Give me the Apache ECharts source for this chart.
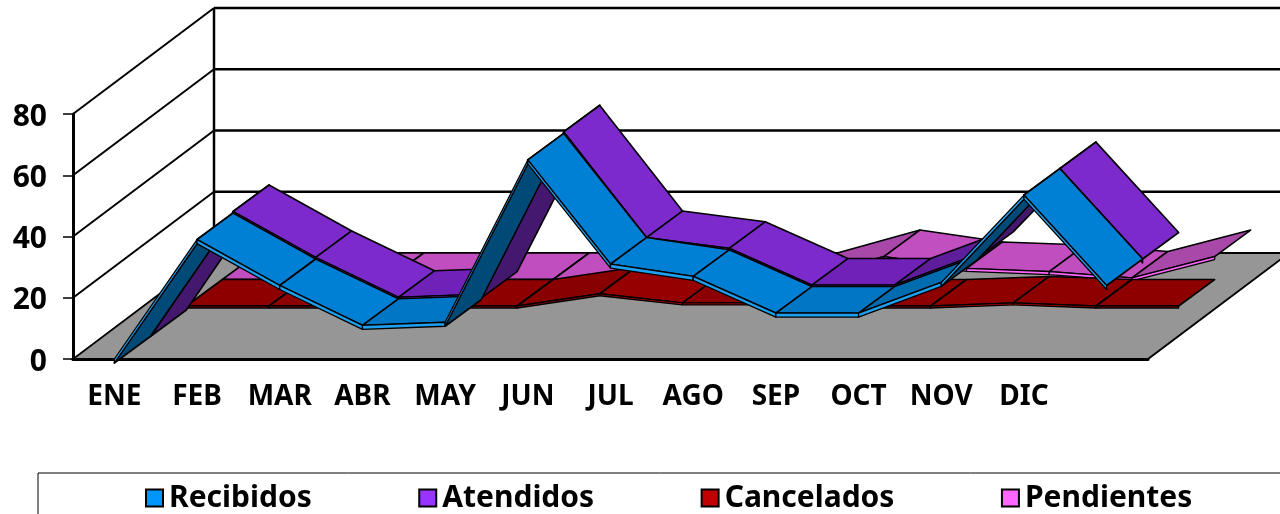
<!DOCTYPE html>
<html>
<head>
<meta charset="utf-8">
<style>
  html, body { margin: 0; padding: 0; background: #fff; }
  #chart { width: 1280px; height: 514px; }
</style>
<script src="https://cdn.jsdelivr.net/npm/echarts@6/dist/echarts.min.js"></script>
</head>
<body>
<div id="chart"></div>
<script>
var meses = ['ENE', 'FEB', 'MAR', 'ABR', 'MAY', 'JUN', 'JUL', 'AGO', 'SEP', 'OCT', 'NOV', 'DIC', '']
var yTicks = [0, 20, 40, 60, 80]
var recibidos = [0, 39, 24, 11, 12, 65, 31, 27, 15, 15, 25, 53.5, 24]
var atendidos = [0, 39.5, 24.5, 11.5, 12.5, 65.5, 31, 27.5, 15.5, 15.5, 25.5, 53.5, 24]
var cancelados = [0, 0, 0, 0, 0, 4, 1, 1, 0, 0, 1, 0, 0]
var pendientes = [0, 0, 0, 0, 0, 0, 0, 0, 7.5, 3.6, 2.6, 0.5, 7.5]

// oblique 3D projection of the depth axis
var depthX = 141
var depthY = -106
var stepX = 36
var stepY = -26.5
var fontName = '"Noto Sans", sans-serif'

var tonos = {
  Recibidos: { down: '#0080D4', flat: '#0076C4', up: '#006CB0', under: '#004A78', edge: '#1EA0F0', legend: '#0096FF', thick: 4 },
  Atendidos: { down: '#7C2ACC', flat: '#7022B8', up: '#5E1E9C', under: '#44186F', edge: '#9933FF', legend: '#9933FF', thick: 4 },
  Cancelados: { down: '#960000', flat: '#8E0000', up: '#880000', under: '#5A0000', edge: '#C00000', legend: '#C00000', thick: 2 },
  Pendientes: { down: '#C24FC0', flat: '#C04EBE', up: '#A848A8', under: '#7A307A', edge: '#FF66FF', legend: '#FF66FF', thick: 3 }
}

function poly (points, fill, width) {
  return {
    type: 'polygon',
    shape: { points: points },
    style: { fill: fill, stroke: '#000', lineWidth: width || 1.6, lineJoin: 'round' }
  }
}

// one ribbon: a strip per month, at slot "slot" of the 4 depth slots
function ribbon (name, values, slot) {
  var t = tonos[name]
  var thick = t.thick
  return {
    name: name,
    type: 'custom',
    coordinateSystem: 'cartesian2d',
    encode: { x: 0, y: 1 },
    silent: true,
    clip: false,
    itemStyle: { color: t.legend },
    data: values.map(function (v, i) { return [i, v] }),
    renderItem: function (params, api) {
      var i = api.value(0)
      if (i >= values.length - 1) return { type: 'group', children: [] }
      var a = api.coord([i, values[i]])
      var b = api.coord([i + 1, values[i + 1]])
      var dx = stepX
      var dy = stepY
      var x0 = a[0] + dx * slot; var y0 = a[1] + dy * slot
      var x1 = b[0] + dx * slot; var y1 = b[1] + dy * slot
      var cross = (x1 - x0) * dy - (y1 - y0) * dx
      var kids = []
      if (cross > 0) {
        // rising steeply: we look at the underside
        kids.push(poly([[x0, y0 + thick], [x1, y1 + thick], [x1 + dx, y1 + dy + thick], [x0 + dx, y0 + dy + thick]], t.under))
        // thick ridge along the top of the rise
        kids.push(poly([[x1, y1], [x1 + dx, y1 + dy], [x1 + dx, y1 + dy + 1], [x1, y1 + 1]], '#000', 2))
      } else {
        var rise = y0 - y1
        var fill = rise > 8 ? t.up : (rise < -8 ? t.down : t.flat)
        kids.push(poly([[x0, y0], [x1, y1], [x1 + dx, y1 + dy], [x0 + dx, y0 + dy]], fill))
      }
      kids.push(poly([[x0, y0], [x1, y1], [x1, y1 + thick], [x0, y0 + thick]], t.edge, 1.3))
      return { type: 'group', children: kids }
    }
  }
}

// floor and walls, drawn from the value axis ticks
var walls = {
  name: 'walls',
  type: 'custom',
  coordinateSystem: 'cartesian2d',
  encode: { x: 0, y: 1 },
  silent: true,
  clip: false,
  z: 1,
  data: yTicks.map(function (v) { return [0, v] }),
  renderItem: function (params, api) {
    var box = params.coordSys
    var yv = api.coord([0, api.value(1)])[1]
    var left = box.x
    var right = box.x + box.width
    var kids = []
    if (api.value(1) === 0) {
      kids.push({
        type: 'polygon',
        shape: { points: [[left, yv], [right, yv], [right + depthX, yv + depthY], [left + depthX, yv + depthY]] },
        style: { fill: '#969696', stroke: '#000', lineWidth: 1.8 }
      })
      kids.push({
        type: 'line',
        shape: { x1: left + depthX, y1: box.y + depthY, x2: left + depthX, y2: yv + depthY },
        style: { stroke: '#000', lineWidth: 2.5 }
      })
    } else {
      kids.push({
        type: 'line',
        shape: { x1: left, y1: yv, x2: left + depthX, y2: yv + depthY },
        style: { stroke: '#000', lineWidth: 2 }
      })
      kids.push({
        type: 'line',
        shape: { x1: left + depthX, y1: yv + depthY, x2: right + depthX, y2: yv + depthY },
        style: { stroke: '#000', lineWidth: 2.5 }
      })
    }
    return { type: 'group', children: kids }
  }
}

var leyenda = ['Recibidos', 'Atendidos', 'Cancelados', 'Pendientes']

var option = {
  animation: false,
  backgroundColor: '#fff',
  textStyle: { fontFamily: fontName },
  grid: { left: 73, top: 114, width: 1075, height: 245 },
  graphic: [{
    type: 'rect',
    shape: { x: 38, y: 473, width: 1300, height: 80 },
    style: { fill: 'none', stroke: '#000', lineWidth: 1 }
  }],
  legend: {
    left: 145,
    top: 483,
    padding: 0,
    icon: 'rect',
    itemWidth: 17,
    itemHeight: 17,
    itemGap: 106.5,
    selectedMode: false,
    textStyle: { fontFamily: fontName, fontWeight: 'bold', fontSize: 30, color: '#000', padding: [0, 0, 0, 1] },
    data: leyenda.map(function (n) {
      return { name: n, itemStyle: { color: tonos[n].legend, borderColor: '#000', borderWidth: 2 } }
    })
  },
  xAxis: {
    type: 'category',
    data: meses,
    axisLine: { lineStyle: { color: '#000', width: 3 } },
    axisTick: { length: 9, lineStyle: { color: '#555', width: 1.5 } },
    axisLabel: { interval: 0, margin: 24, color: '#000', fontFamily: fontName, fontWeight: 'bold', fontSize: 28 }
  },
  yAxis: {
    type: 'value',
    min: 0,
    max: 80,
    interval: 20,
    splitLine: { show: false },
    axisLine: { show: true, lineStyle: { color: '#000', width: 3 } },
    axisTick: { show: true, length: 10, lineStyle: { color: '#000', width: 1.5 } },
    axisLabel: { margin: 26, color: '#000', fontFamily: fontName, fontWeight: 'bold', fontSize: 30, verticalAlign: 'top', lineHeight: 6 }
  },
  series: [
    walls,
    ribbon('Pendientes', pendientes, 3),
    ribbon('Cancelados', cancelados, 2),
    ribbon('Atendidos', atendidos, 1),
    ribbon('Recibidos', recibidos, 0)
  ]
}

var chart = echarts.init(document.getElementById('chart'))
chart.setOption(option)
</script>
</body>
</html>
